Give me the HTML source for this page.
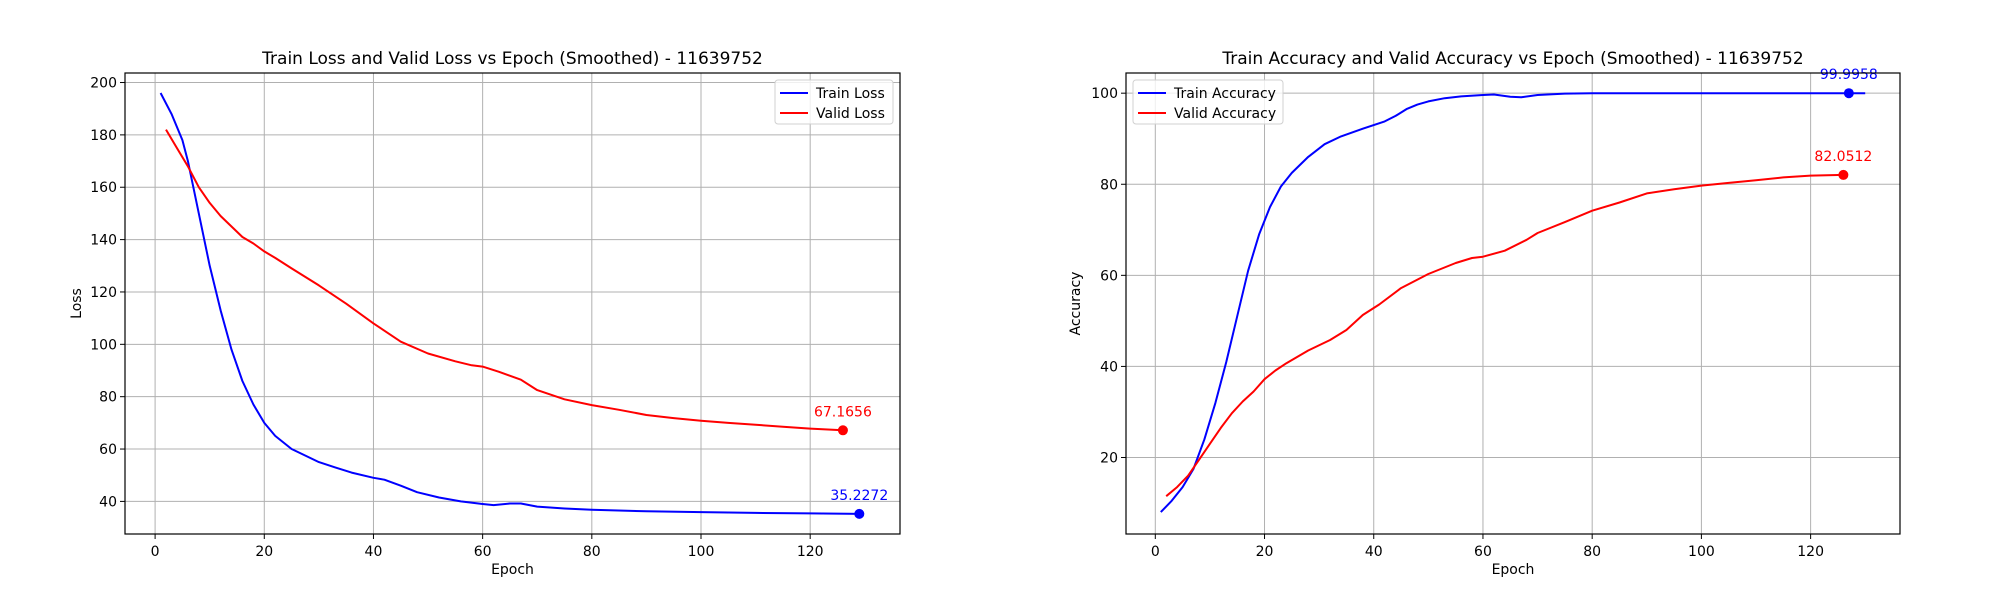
<!DOCTYPE html>
<html><head><meta charset="utf-8"><style>
html,body{margin:0;padding:0;background:#fff}
svg{display:block;font-family:"DejaVu Sans","Liberation Sans",sans-serif}
</style></head><body>
<svg id="fig" width="2000" height="600" viewBox="0 0 2000 600"></svg>
<script>
// ---- Loss chart data ----
const trainLossEpochs=[1,3,5,6,8,10,12,14,16,18,20,22,25,28,30,33,36,40,42,45,48,52,56,60,62,65,67,70,75,80,90,100,110,120,129];
const trainLossValues=[196,188,178,170,150,130,113,98,86,77,70,65,60,57,55,53,51,49,48.3,46,43.5,41.5,40,39,38.6,39.2,39.2,38,37.3,36.8,36.2,35.9,35.6,35.4,35.2272];
const validLossEpochs=[2,4,6,8,10,12,14,16,18,20,22,25,30,35,40,45,50,55,58,60,63,67,70,75,80,85,90,95,100,105,110,115,120,126];
const validLossValues=[182,175,168,160,154,149,145,141,138.5,135.5,133,129,122.5,115.5,108,101,96.5,93.5,92,91.5,89.5,86.5,82.5,79,76.8,75,73,71.8,70.8,70,69.3,68.5,67.8,67.1656];
const lossYTicks=[40,60,80,100,120,140,160,180,200];
// ---- Accuracy chart data ----
const trainAccEpochs=[1,3,5,7,9,11,13,15,17,19,21,23,25,28,31,34,38,42,44,46,48,50,53,56,60,62,65,67,70,75,80,100,127,130];
const trainAccValues=[8,10.5,13.5,17.5,24,32,41,51,61,69,75,79.5,82.5,86,88.8,90.5,92.2,93.8,95,96.5,97.5,98.2,98.9,99.3,99.6,99.7,99.2,99.1,99.6,99.9,100,100,99.9958,100];
const validAccEpochs=[2,4,6,8,10,12,14,16,18,20,22,24,28,32,35,38,41,45,50,55,58,60,64,68,70,75,80,85,90,95,100,105,110,115,120,126];
const validAccValues=[11.5,13.5,16,19.5,23,26.5,29.7,32.3,34.5,37.2,39.1,40.7,43.5,45.8,48,51.3,53.6,57.2,60.3,62.7,63.8,64.1,65.4,67.8,69.3,71.7,74.2,76,78,78.9,79.7,80.3,80.9,81.5,81.9,82.0512];
const accYTicks=[20,40,60,80,100];
const xTicks=[0,20,40,60,80,100,120];

const NS="http://www.w3.org/2000/svg";
const svg=document.getElementById('fig');
function mk(tag,attrs,parent,text){const e=document.createElementNS(NS,tag);for(const k in attrs)e.setAttribute(k,attrs[k]);if(text!==undefined)e.textContent=text;(parent||svg).appendChild(e);return e;}

function chart(cfg){
  const g=mk('g',{});
  
  
  const X=e=>cfg.x0+e*cfg.xs, Y=v=>cfg.y0-(v-cfg.v0)*cfg.ys;
  xTicks.forEach(t=>{const l=mk('line',{x1:X(t),x2:X(t),y1:cfg.top,y2:cfg.bot,stroke:'#b0b0b0','stroke-width':1},g);
    });
  cfg.yTicks.forEach(t=>{const l=mk('line',{x1:cfg.left,x2:cfg.right,y1:Y(t),y2:Y(t),stroke:'#b0b0b0','stroke-width':1},g);
    });
  xTicks.forEach(t=>{mk('line',{x1:X(t),x2:X(t),y1:cfg.bot,y2:cfg.bot+5,stroke:'#000'},g);
    const tx=mk('text',{x:X(t),y:cfg.bot+22,'font-size':14,'text-anchor':'middle'},g,String(t));
    });
  cfg.yTicks.forEach(t=>{mk('line',{x1:cfg.left-5,x2:cfg.left,y1:Y(t),y2:Y(t),stroke:'#000'},g);
    const tx=mk('text',{x:cfg.left-8,y:Y(t)+5,'font-size':14,'text-anchor':'end'},g,String(t));
    });
  cfg.series.forEach(s=>{
    const d=s.ex.map((e,i)=>(i?'L':'M')+X(e).toFixed(1)+','+Y(s.vals[i]).toFixed(1)).join(' ');
    const p=mk('path',{d:d,fill:'none',stroke:s.color,'stroke-width':2,'stroke-linejoin':'round'},g);
    
    const mi=s.markIdx, mx=X(s.ex[mi]), my=Y(s.vals[mi]);
    const c=mk('circle',{cx:mx,cy:my,r:5,fill:s.color},g);
    
    const a=mk('text',{x:mx,y:my-14,'font-size':14,'text-anchor':'middle',fill:s.color},g,s.vals[mi].toFixed(4));
    
  });
  mk('rect',{x:cfg.left,y:cfg.top,width:cfg.right-cfg.left,height:cfg.bot-cfg.top,fill:'none',stroke:'#000','stroke-width':1.2},g);
  const ti=mk('text',{x:(cfg.left+cfg.right)/2,y:64,'font-size':17,'text-anchor':'middle'},g,cfg.title);
  
  const xl=mk('text',{x:(cfg.left+cfg.right)/2,y:574,'font-size':14,'text-anchor':'middle'},g,'Epoch');
  
  const yx=cfg.ylabX, yy=(cfg.top+cfg.bot)/2;
  const yl=mk('text',{x:yx,y:yy,'font-size':14,'text-anchor':'middle',transform:`rotate(-90 ${yx} ${yy})`},g,cfg.ylabel);
  
  const L=cfg.legend;
  const lg=mk('g',{},g);
  
  mk('rect',{x:L.x,y:L.y,width:L.w,height:44,rx:3,fill:'#fff','fill-opacity':0.8,stroke:'#d0d0d0'},lg);
  cfg.series.forEach((s,i)=>{const yy2=L.y+13+i*20;
    mk('line',{x1:L.x+5,x2:L.x+33,y1:yy2,y2:yy2,stroke:s.color,'stroke-width':2},lg);
    const t=mk('text',{x:L.x+41,y:yy2+5,'font-size':14},lg,s.label);
    });
}

chart({name:'loss-chart',left:125,right:900,top:73,bot:534,x0:155.1,xs:5.459,y0:501.4,v0:40,ys:2.618,
  yTicks:lossYTicks,title:'Train Loss and Valid Loss vs Epoch (Smoothed) - 11639752',ylabel:'Loss',ylabX:81,
  legend:{x:775,y:80,w:118},
  series:[{name:'train-loss-line',label:'Train Loss',color:'#0000ff',ex:trainLossEpochs,vals:trainLossValues,markIdx:trainLossEpochs.length-1},
          {name:'valid-loss-line',label:'Valid Loss',color:'#ff0000',ex:validLossEpochs,vals:validLossValues,markIdx:validLossEpochs.length-1}]});
chart({name:'accuracy-chart',left:1126,right:1900,top:73,bot:534,x0:1155.3,xs:5.461,y0:457.5,v0:20,ys:4.554,
  yTicks:accYTicks,title:'Train Accuracy and Valid Accuracy vs Epoch (Smoothed) - 11639752',ylabel:'Accuracy',ylabX:1080,
  legend:{x:1133,y:80,w:150},
  series:[{name:'train-accuracy-line',label:'Train Accuracy',color:'#0000ff',ex:trainAccEpochs,vals:trainAccValues,markIdx:trainAccEpochs.length-2},
          {name:'valid-accuracy-line',label:'Valid Accuracy',color:'#ff0000',ex:validAccEpochs,vals:validAccValues,markIdx:validAccEpochs.length-1}]});
</script>
</body></html>
